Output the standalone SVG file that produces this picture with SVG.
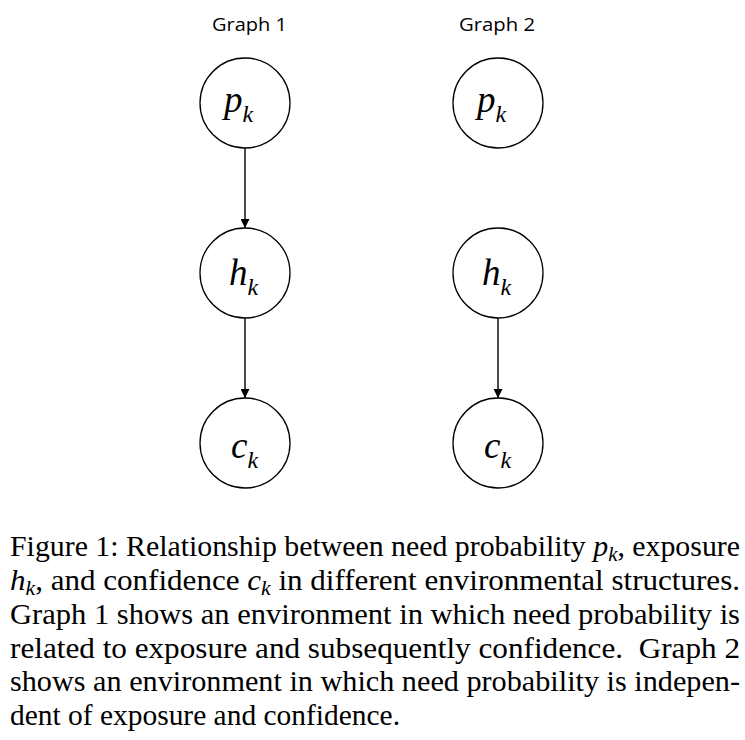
<svg xmlns="http://www.w3.org/2000/svg" width="745" height="740" viewBox="0 0 745 740">
<style>
.node{fill:#fff;stroke:#000;stroke-width:1.3}
.edge{stroke:#000;stroke-width:1.4;fill:none}
.title{font-family:'Open Sans','Liberation Sans',sans-serif;font-size:19px;fill:#000}
.var{font-family:'Liberation Serif',serif;font-style:italic;font-size:37px;fill:#000}
.sub{font-size:24px}
.cap{font-family:'Liberation Serif',serif;font-size:30px;fill:#000}
.ci{font-style:italic}
.cs{font-style:italic;font-size:21px}
</style>
<defs>
<marker id="arr" viewBox="0 0 10 10" refX="10" refY="5" markerWidth="10" markerHeight="9" markerUnits="userSpaceOnUse" orient="auto">
<path d="M0,0 L10,5 L0,10 z" fill="#000"/>
</marker>
</defs>
<rect width="745" height="740" fill="#fff"/>
<text class="title" x="212" y="31" textLength="75" lengthAdjust="spacingAndGlyphs">Graph 1</text>
<text class="title" x="459" y="31" textLength="76" lengthAdjust="spacingAndGlyphs">Graph 2</text>
<g id="connectors">
<line class="edge" x1="245" y1="148" x2="245" y2="228" marker-end="url(#arr)"/>
<line class="edge" x1="245" y1="318" x2="245" y2="398" marker-end="url(#arr)"/>
<line class="edge" x1="498" y1="318" x2="498" y2="398" marker-end="url(#arr)"/>
</g>
<g id="g1_p"><circle class="node" cx="245" cy="103" r="45"/><text class="var" x="224" y="112">p<tspan class="sub" dy="10">k</tspan></text></g>
<g id="g1_h"><circle class="node" cx="245" cy="273" r="45"/><text class="var" x="229" y="285">h<tspan class="sub" dy="10">k</tspan></text></g>
<g id="g1_c"><circle class="node" cx="245" cy="443" r="45"/><text class="var" x="231" y="458">c<tspan class="sub" dy="10">k</tspan></text></g>
<g id="g2_p"><circle class="node" cx="498" cy="103" r="45"/><text class="var" x="477" y="112">p<tspan class="sub" dy="10">k</tspan></text></g>
<g id="g2_h"><circle class="node" cx="498" cy="273" r="45"/><text class="var" x="482" y="285">h<tspan class="sub" dy="10">k</tspan></text></g>
<g id="g2_c"><circle class="node" cx="498" cy="443" r="45"/><text class="var" x="484" y="458">c<tspan class="sub" dy="10">k</tspan></text></g>
<g id="caption">
<text class="cap" x="10" y="556" textLength="730" lengthAdjust="spacingAndGlyphs">Figure 1: Relationship between need probability <tspan class="ci">p</tspan><tspan class="cs" dy="5">k</tspan><tspan dy="-5">, exposure</tspan></text>
<text class="cap" x="10" y="590" textLength="730" lengthAdjust="spacingAndGlyphs"><tspan class="ci">h</tspan><tspan class="cs" dy="5">k</tspan><tspan dy="-5">, and confidence </tspan><tspan class="ci">c</tspan><tspan class="cs" dy="5">k</tspan><tspan dy="-5"> in different environmental structures.</tspan></text>
<text class="cap" x="10" y="624" textLength="730" lengthAdjust="spacingAndGlyphs">Graph 1 shows an environment in which need probability is</text>
<text class="cap" x="10" y="657.5" textLength="730" lengthAdjust="spacingAndGlyphs">related to exposure and subsequently confidence.&#160; Graph 2</text>
<text class="cap" x="10" y="691" textLength="730" lengthAdjust="spacingAndGlyphs">shows an environment in which need probability is indepen-</text>
<text class="cap" x="10" y="725" textLength="390" lengthAdjust="spacingAndGlyphs">dent of exposure and confidence.</text>
</g>
</svg>
